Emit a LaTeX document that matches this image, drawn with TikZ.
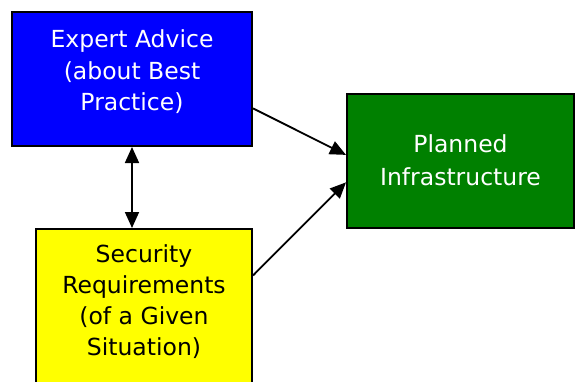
\documentclass[tikz,border=0pt]{standalone}
\usepackage{fontspec}
\setmainfont{DejaVu Sans}
\usetikzlibrary{arrows.meta,calc}
\definecolor{boxblue}{RGB}{0,0,255}
\definecolor{boxgreen}{RGB}{0,128,0}
\definecolor{boxyellow}{RGB}{255,255,0}
\tikzset{
  boxshape/.style={draw=black, line width=2pt, rectangle, inner sep=0pt},
  boxtext/.style={align=center, inner sep=0pt, font=\fontsize{23.5}{31.5}\selectfont},
  conn/.style={line width=1.8pt, -{Triangle[length=16pt,width=14pt]}},
  dconn/.style={line width=1.8pt, {Triangle[length=16pt,width=14pt]}-{Triangle[length=16pt,width=14pt]}}
}
\begin{document}
\begin{tikzpicture}[x=1pt,y=-1pt]
\useasboundingbox (0,0) rectangle (576,381);
\clip (0,0) rectangle (576,381);
% boxes
\node[boxshape, fill=boxblue, minimum width=240pt, minimum height=134pt] (expert) at (132,79) {};
\node[boxshape, fill=boxgreen, minimum width=227pt, minimum height=134pt] (planned) at (460.5,161) {};
\node[boxshape, fill=boxyellow, minimum width=216pt, minimum height=170pt, anchor=north] (security) at (144,228) {};
% texts
\node[boxtext, text=white] (experttext) at (132,72) {Expert Advice\\(about Best\\Practice)};
\node[boxtext, text=white, font=\fontsize{23.5}{33}\selectfont] (plannedtext) at (460.5,160.5) {Planned\\Infrastructure};
\node[boxtext, text=black, font=\fontsize{23.5}{31}\selectfont] (securitytext) at (144,302) {Security\\Requirements\\(of a Given\\Situation)};
% connectors
\draw[conn] ($(expert.north east)!0.716!(expert.south east)$) -- ($(planned.north west)!0.455!(planned.south west)$);
\draw[conn] ($(security.north east)!0.276!(security.south east)$) -- ($(planned.north west)!0.657!(planned.south west)$);
\draw[dconn] (expert.south) -- (expert.south |- security.north);
\end{tikzpicture}
\end{document}
